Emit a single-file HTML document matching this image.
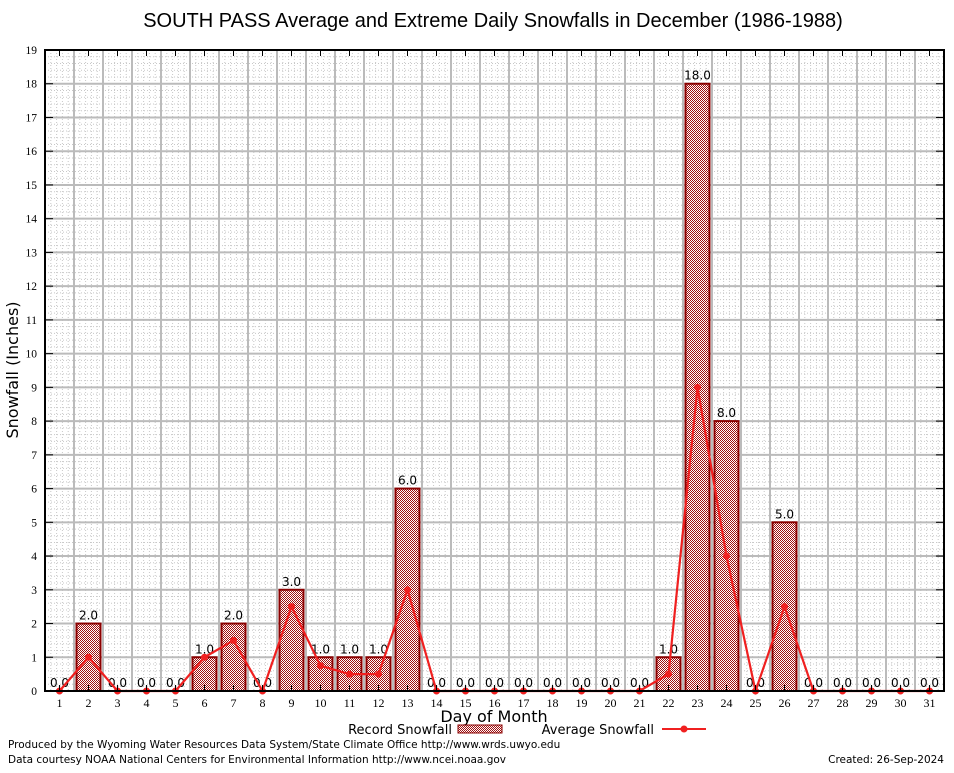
<!DOCTYPE html>
<html><head><meta charset="utf-8"><style>
body{margin:0;background:#fff;}
text{font-family:"DejaVu Sans","Liberation Sans",sans-serif;}
</style></head><body>
<svg id="chart" width="954" height="768" xmlns="http://www.w3.org/2000/svg">
<defs>
<pattern id="chk" width="2" height="2" patternUnits="userSpaceOnUse">
<rect width="2" height="2" fill="#fff"/><rect width="1" height="1" fill="#a01010"/><rect x="1" y="1" width="1" height="1" fill="#a01010"/>
</pattern>
</defs>
<rect x="0" y="0" width="954" height="768" fill="#fff"/>
<text x="493" y="27" font-size="20" text-anchor="middle" style="font-family:'Liberation Sans',sans-serif">SOUTH PASS Average and Extreme Daily Snowfalls in December (1986-1988)</text>
<g id="grid"></g>
<g id="bars"></g>
<g id="avg"></g>
<g id="axes"></g>
<text x="18" y="370" font-size="16" text-anchor="middle" transform="rotate(-90 18 370)">Snowfall (Inches)</text>
<text x="494" y="722" font-size="16" text-anchor="middle">Day of Month</text>
<g>
<text x="452" y="734" font-size="13" text-anchor="end">Record Snowfall</text>
<rect x="458" y="725" width="44" height="8" fill="url(#chk)" stroke="#8b0000"/>
<text x="654" y="734" font-size="13" text-anchor="end">Average Snowfall</text>
<line x1="662" y1="729" x2="706" y2="729" stroke="#f02020" stroke-width="2"/>
<circle cx="684" cy="729" r="3.5" fill="#f02020"/>
</g>
<text x="8" y="748" font-size="10.5">Produced by the Wyoming Water Resources Data System/State Climate Office http://www.wrds.uwyo.edu</text>
<text x="8" y="763" font-size="10.5">Data courtesy NOAA National Centers for Environmental Information http://www.ncei.noaa.gov</text>
<text x="944" y="763" font-size="10.5" text-anchor="end">Created:  26-Sep-2024</text>
</svg>
<script>
const days=[1,2,3,4,5,6,7,8,9,10,11,12,13,14,15,16,17,18,19,20,21,22,23,24,25,26,27,28,29,30,31];
const recordVals=[0,2,0,0,0,1,2,0,3,1,1,1,6,0,0,0,0,0,0,0,0,1,18,8,0,5,0,0,0,0,0];
const avgVals=[0,1,0,0,0,1,1.5,0,2.5,0.75,0.5,0.5,3,0,0,0,0,0,0,0,0,0.5,9,4,0,2.5,0,0,0,0,0];
const yTicks=[0,1,2,3,4,5,6,7,8,9,10,11,12,13,14,15,16,17,18,19];
const L=45,R=944,T=50,B=691,YMAX=19;
const NS="http://www.w3.org/2000/svg";
function xs(d){return L+(d-0.5)*(R-L)/31;}
function ys(v){return B-v*(B-T)/YMAX;}
function mk(tag,attrs,parent){const e=document.createElementNS(NS,tag);for(const k in attrs)e.setAttribute(k,attrs[k]);parent.appendChild(e);return e;}
const grid=document.getElementById('grid'),bars=document.getElementById('bars'),avg=document.getElementById('avg'),axes=document.getElementById('axes');
const dx=(R-L)/31,dy=(B-T)/YMAX;
for(let i=0;i<31;i++)for(let j=1;j<5;j++){const x=L+i*dx+j*dx/5;mk('line',{x1:x,y1:T,x2:x,y2:B,stroke:'#c8c8c8','stroke-width':1,'stroke-dasharray':'1,2'},grid);}
for(let i=0;i<YMAX;i++)for(let j=1;j<5;j++){const y=B-i*dy-j*dy/5;mk('line',{x1:L,y1:y,x2:R,y2:y,stroke:'#c8c8c8','stroke-width':1,'stroke-dasharray':'1,2'},grid);}
for(let i=1;i<31;i++){const x=L+i*dx;mk('line',{x1:x,y1:T,x2:x,y2:B,stroke:'#bbb','stroke-width':2},grid);}
yTicks.forEach(v=>{if(v>0){const y=ys(v);mk('line',{x1:L,y1:y,x2:R,y2:y,stroke:'#bbb','stroke-width':2},grid);}});
days.forEach((d,i)=>{
 const v=recordVals[i];
 if(v>0){
  const r=mk('rect',{x:xs(d)-12,y:ys(v),width:24,height:B-ys(v),fill:'url(#chk)',stroke:'#8b0000','stroke-width':2},bars);
  
  
 }
 const t=mk('text',{x:xs(d),y:ys(v)-4,'font-size':12,'text-anchor':'middle'},bars);
 t.textContent=v.toFixed(1);
 
 
});
const pts=days.map((d,i)=>xs(d)+','+ys(avgVals[i])).join(' ');
const pl=mk('polyline',{points:pts,fill:'none',stroke:'#f02020','stroke-width':2.2},avg);


days.forEach((d,i)=>{
 const c=mk('circle',{cx:xs(d),cy:ys(avgVals[i]),r:3.5,fill:'#f02020'},avg);
 
 
});
mk('rect',{x:L,y:T,width:R-L,height:B-T,fill:'none',stroke:'#000','stroke-width':2},axes);
yTicks.forEach(v=>{const y=ys(v);
 mk('line',{x1:L,y1:y,x2:L+8,y2:y,stroke:'#000'},axes);
 mk('line',{x1:R-8,y1:y,x2:R,y2:y,stroke:'#000'},axes);
 const t=mk('text',{x:L-8,y:y+4,'font-size':11.5,'text-anchor':'end'},axes);
 t.style.fontFamily='"Liberation Serif",serif';
 t.textContent=v;
 
 
});
days.forEach(d=>{const x=xs(d);
 mk('line',{x1:x,y1:B,x2:x,y2:B-6,stroke:'#000'},axes);
 mk('line',{x1:x,y1:T,x2:x,y2:T+6,stroke:'#000'},axes);
 const t=mk('text',{x:x,y:B+16,'font-size':12,'text-anchor':'middle'},axes);
 t.style.fontFamily='"Liberation Serif",serif';
 t.textContent=d;
 
 
});
</script>
</body></html>
